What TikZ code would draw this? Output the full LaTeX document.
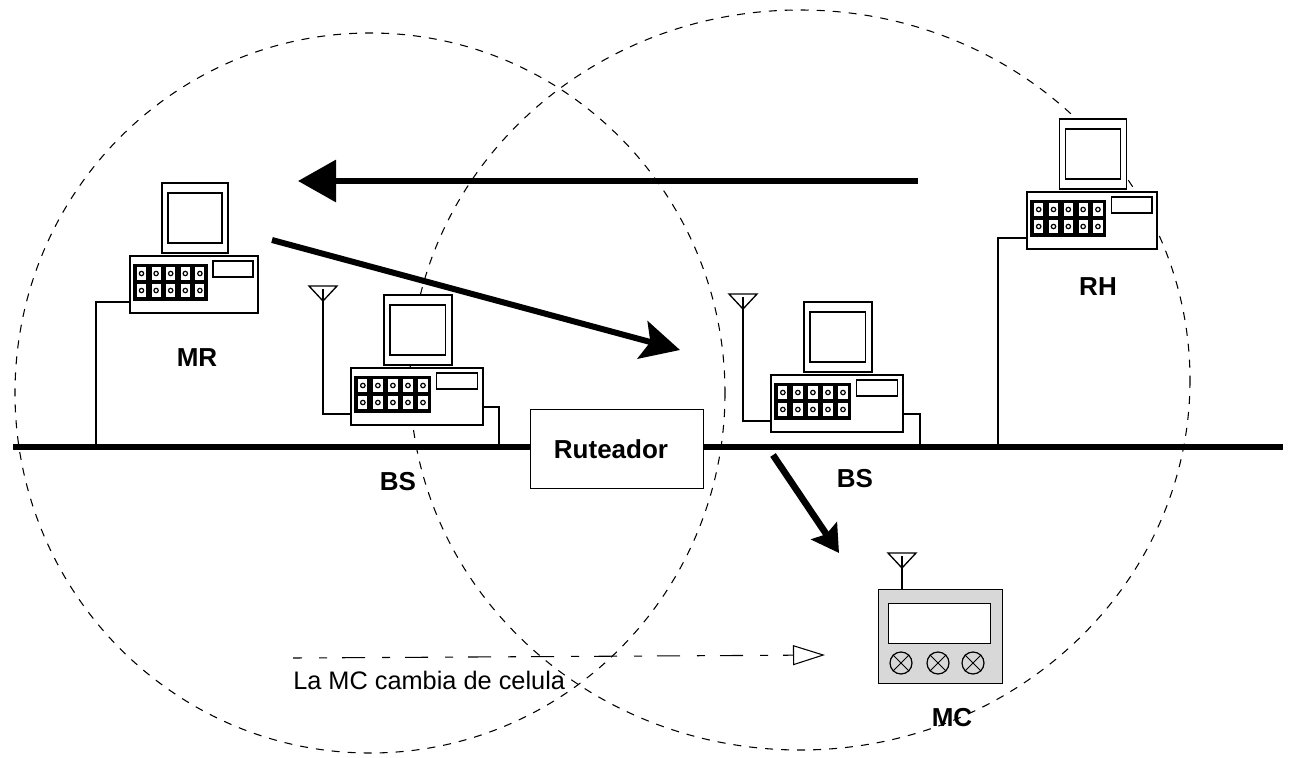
\documentclass[tikz,border=0pt]{standalone}
\usepackage{fontspec}
\setmainfont{Liberation Sans}
\usetikzlibrary{arrows.meta}
\definecolor{devgray}{HTML}{D8D8D8}
\tikzset{
  x=0.75pt,y=-0.75pt,
  cell/.style={line width=0.8pt,dash pattern=on 6pt off 6pt},
  wire/.style={line width=1pt,black},
  box/.style={draw=black,line width=1pt,fill=white},
  bigarrow/.style={line width=4pt,-{Triangle[length=28.5pt,width=31pt]}},
  slantarrow/.style={line width=4.5pt,-{Stealth[length=29pt,width=29pt,inset=6pt]}},
  medarrow/.style={line width=5pt,-{Stealth[length=20pt,width=23pt,inset=3pt]}},
  movearrow/.style={line width=0.8pt,dash pattern=on 17.25pt off 12.75pt on 6pt off 11.25pt,dash phase=10.5pt,-{Triangle[open,fill=white,length=24pt,width=15pt]}},
  lab/.style={font=\fontsize{19.5}{22}\selectfont\bfseries,inner sep=0pt},
  knob/.style={draw=black,line width=0.9pt,circle,minimum size=16.5pt,inner sep=0pt},
  pics/pc/.style={code={
    \draw[box] (32,-73) rectangle (98,-3);
    \draw[box] (38,-63) rectangle (92,-13);
    \draw[box] (0,0) rectangle (128,57);
    \fill[black] (3,8) rectangle (78,45);
    \foreach \c in {0,...,4}{
      \foreach \r in {11,28}{
        \fill[white] ({7+14.6*\c},\r) rectangle ({16+14.6*\c},{\r+13});
        \draw[black,line width=0.9pt] ({11.5+14.6*\c},{\r+6.5}) circle (2.2);
      }
    }
    \draw[box] (83,5) rectangle (123,21);
    \coordinate (-wl) at (0,46);
    \coordinate (-wr) at (128,39);
  }},
  pics/ant/.style={code={
    \draw[wire,fill=white] (-14,0) -- (14,0) -- (0,15) -- cycle;
    \coordinate (-mast) at (0,3);
  }}
}
\begin{document}
\begin{tikzpicture}
\useasboundingbox (0,0) rectangle (1289,757);
% cells
\draw[cell] (370,393) ellipse [x radius=355,y radius=360];
\draw[cell] (800,380) ellipse [x radius=390,y radius=370];
% bus
\coordinate (busL) at (13,447);
\coordinate (busR) at (1283,447);
\draw[line width=4.5pt] (busL) -- (busR);
\coordinate (dropMR) at (96,447);
\coordinate (dropBSa) at (499,447);
\coordinate (dropBSb) at (920,447);
\coordinate (dropRH) at (998,447);
% router
\node[box,minimum width=129.75pt,minimum height=59.25pt,inner sep=0pt,anchor=north west] (router) at (530,409) {};
\node[lab] (lrouter) at (611,449) {Ruteador};
% computers
\pic (mr) at (130,256) {pc};
\pic[xscale=1.03] (bsa) at (351,368) {pc};
\pic[xscale=1.03] (bsb) at (771,375) {pc};
\pic[xscale=1.015] (rh) at (1027,192) {pc};
% antennas
\pic (anta) at (323,286) {ant};
\pic (antb) at (743,294) {ant};
\pic (antc) at (902,553) {ant};
% wires
\draw[wire] (mr-wl) -| (dropMR);
\draw[wire] (rh-wl) -| (dropRH);
\draw[wire] (bsa-wr) -| (dropBSa);
\draw[wire] (bsb-wr) -| (dropBSb);
\draw[wire] (anta-mast) |- (bsa-wl);
\draw[wire] (antb-mast) |- (bsb-wl);
% mobile computer
\node[draw=black,line width=1pt,fill=devgray,minimum width=93pt,minimum height=70.5pt,inner sep=0pt,anchor=north west] (mc) at (878,589) {};
\node[box,minimum width=76.5pt,minimum height=30pt,inner sep=0pt,anchor=north west] (mcscreen) at (888,603) {};
\foreach \k/\kx in {a/901,b/938,c/973}{
  \node[knob] (knob\k) at (\kx,663) {};
  \draw[line width=0.7pt] (knob\k.45) -- (knob\k.225) (knob\k.135) -- (knob\k.315);
}
\draw[wire] (antc-mast) -- (antc-mast |- mc.north);
% labels
\node[lab] (lmr) at (197,358) {MR};
\node[lab] (lrh) at (1098,287) {RH};
\node[lab] (lbsa) at (398,482) {BS};
\node[lab] (lbsb) at (855,479) {BS};
\node[lab] (lmc) at (952,718) {MC};
\node[inner sep=0pt,anchor=west,font=\fontsize{19}{22}\selectfont] (lmove) at (293,680) {La MC cambia de celula};
% arrows
\coordinate (a1s) at (918,181);
\coordinate (a1e) at (298,181);
\coordinate (a2s) at (272,240);
\coordinate (a2e) at (680,350);
\coordinate (a3s) at (773,455);
\coordinate (a3e) at (839,553);
\coordinate (a4s) at (293,658);
\coordinate (a4e) at (825,655);
\draw[bigarrow] (a1s) -- (a1e);
\draw[slantarrow] (a2s) -- (a2e);
\draw[medarrow] (a3s) -- (a3e);
\draw[movearrow] (a4s) -- (a4e);
\end{tikzpicture}
\end{document}
